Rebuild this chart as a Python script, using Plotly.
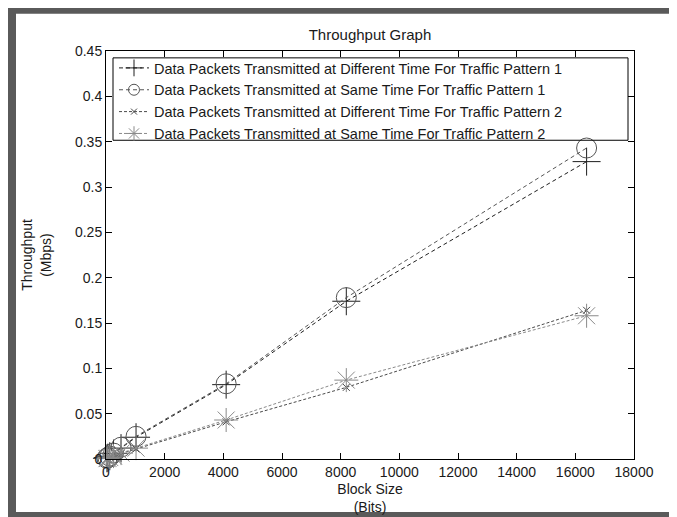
import plotly.graph_objects as go

# ---------------- data ----------------
block_size = [32, 64, 128, 256, 512, 1024, 4096, 8192, 16384]
diff_time_p1 = [0.0008, 0.0015, 0.003, 0.006, 0.012, 0.024, 0.082, 0.174, 0.328]
same_time_p1 = [0.0008, 0.0016, 0.0032, 0.0065, 0.013, 0.025, 0.083, 0.178, 0.343]
diff_time_p2 = [0.0004, 0.0008, 0.0015, 0.003, 0.006, 0.011, 0.041, 0.079, 0.164]
same_time_p2 = [0.0004, 0.0008, 0.0016, 0.0032, 0.0065, 0.012, 0.043, 0.087, 0.158]

series_names = [
    "Data Packets Transmitted at Different Time For Traffic Pattern 1",
    "Data Packets Transmitted at Same Time For Traffic Pattern 1",
    "Data Packets Transmitted at Different Time For Traffic Pattern 2",
    "Data Packets Transmitted at Same Time For Traffic Pattern 2",
]
x_ticks = [0, 2000, 4000, 6000, 8000, 10000, 12000, 14000, 16000, 18000]
y_ticks = [0, 0.05, 0.1, 0.15, 0.2, 0.25, 0.3, 0.35, 0.4, 0.45]

# ---------------- styles ----------------
styles = [
    dict(color="#1e1e1e", symbol="cross-thin-open", size=20, dash="4px,3px", lsize=12),
    dict(color="#555555", symbol="circle-open", size=20, dash="4px,3px", lsize=11),
    dict(color="#4a4a4a", symbol="x-thin-open", size=7, dash="3px,2px", lsize=6),
    dict(color="#8a8a8a", symbol="asterisk-open", size=20, dash="3px,2px", lsize=12),
]
values = [diff_time_p1, same_time_p1, diff_time_p2, same_time_p2]

W, H = 677, 517
L, R, T, B = 98, W - 626, 43, H - 459
PW, PH = W - L - R, H - T - B

def px(xp):
    return (xp - L) / PW

def py(yp):
    return (H - B - yp) / PH

fig = go.Figure()
for name, vals, st in zip(series_names, values, styles):
    fig.add_trace(go.Scatter(
        x=block_size, y=vals, mode="lines+markers", name=name,
        showlegend=False, cliponaxis=False,
        line=dict(color=st["color"], width=1, dash=st["dash"]),
        marker=dict(symbol=st["symbol"], size=st["size"], color=st["color"],
                    line=dict(width=1, color=st["color"])),
    ))
# legend entries (smaller symbols as in the original legend)
for name, st in zip(series_names, styles):
    fig.add_trace(go.Scatter(
        x=[None], y=[None], mode="lines+markers", name=name,
        line=dict(color=st["color"], width=1, dash=st["dash"]),
        marker=dict(symbol=st["symbol"], size=st["lsize"], color=st["color"],
                    line=dict(width=1, color=st["color"])),
    ))

font_family = "Liberation Sans, Arial, Helvetica, sans-serif"

axis_common = dict(
    showline=True, linecolor="black", linewidth=1, mirror="ticks",
    ticks="inside", ticklen=6, tickwidth=1, tickcolor="black",
    showgrid=False, zeroline=False,
    tickfont=dict(family=font_family, size=14, color="#1a1a1a"),
)

fig.update_layout(
    width=W, height=H,
    margin=dict(l=L, r=R, t=T, b=B),
    paper_bgcolor="#5a5a5a",
    plot_bgcolor="white",
    font=dict(family=font_family, color="#1a1a1a"),
    title=dict(text="Throughput Graph", x=0.5, xref="paper", xanchor="center",
               y=1 - 27 / H, yanchor="middle",
               font=dict(family=font_family, size=15, color="#1a1a1a")),
    xaxis=dict(range=[0, 18000], tickvals=x_ticks, tickformat="d",
               title=dict(text="Block Size<br>(Bits)", standoff=5,
                          font=dict(family=font_family, size=14, color="#1a1a1a")),
               **axis_common),
    yaxis=dict(range=[0, 0.45], tickvals=y_ticks,
               ticktext=[f"{v:g}" for v in y_ticks],
               title=dict(text="Throughput<br>(Mbps)", standoff=20,
                          font=dict(family=font_family, size=14, color="#1a1a1a")),
               **axis_common),
    legend=dict(x=px(106), y=py(44), xanchor="left", yanchor="top",
                bgcolor="rgba(0,0,0,0)", borderwidth=0,
                font=dict(family=font_family, size=14.5, color="#1a1a1a"),
                tracegroupgap=0),
    shapes=[
        # white figure window
        dict(type="rect", xref="paper", yref="paper", layer="below",
             x0=px(8), x1=px(667), y0=py(513), y1=py(5),
             fillcolor="white", line=dict(width=0)),
        # legend box
        dict(type="rect", xref="paper", yref="paper", layer="above",
             x0=px(105), x1=px(620), y0=py(134), y1=py(50),
             fillcolor="rgba(0,0,0,0)", line=dict(color="black", width=1)),
    ],
)

fig.write_html("out.html")
